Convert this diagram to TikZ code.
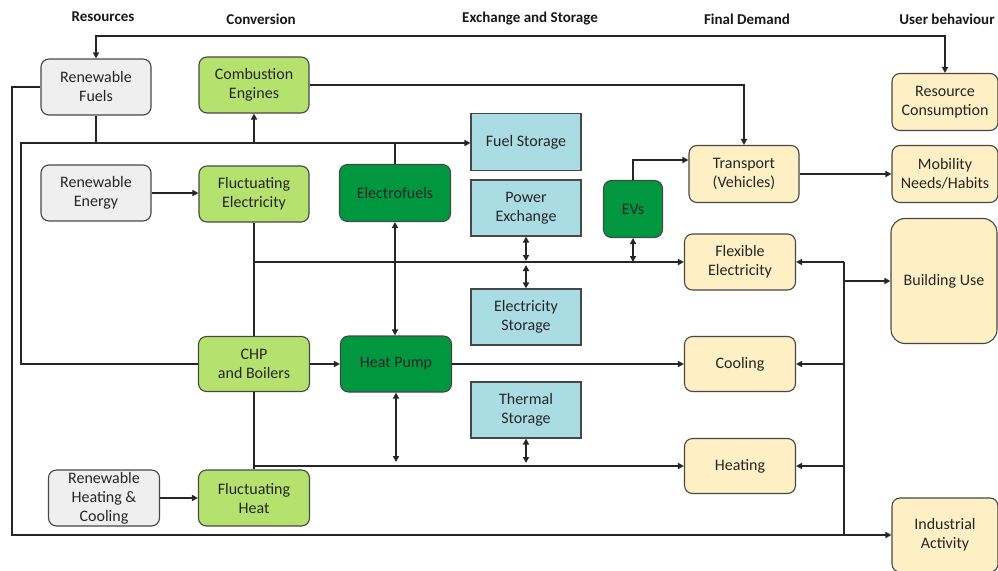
\documentclass[tikz,border=0pt]{standalone}
\usepackage{fontspec}
\setmainfont{Carlito}
\usetikzlibrary{arrows.meta,calc}
\definecolor{cgray}{HTML}{EFEFEF}
\definecolor{clgreen}{HTML}{B5E26E}
\definecolor{cdgreen}{HTML}{00973F}
\definecolor{cblue}{HTML}{A9DCE3}
\definecolor{cyellow}{HTML}{FFEFC4}
\begin{document}
\begin{tikzpicture}[x=1pt,y=-1pt,
  box/.style={draw=black!72, line width=1.1pt, rounded corners=8pt, minimum width=110pt, minimum height=56pt, align=center, font=\fontsize{16}{19}\selectfont, inner sep=1pt, text=black!85},
  grayb/.style={box, fill=cgray},
  lgreen/.style={box, fill=clgreen},
  dgreen/.style={box, fill=cdgreen},
  blueb/.style={box, fill=cblue, rounded corners=0pt},
  yel/.style={box, fill=cyellow},
  hdr/.style={font=\fontsize{15}{17}\selectfont\bfseries, text=black!90},
  ln/.style={line width=1.5pt, draw=black!85},
  ar/.style={ln, -{Triangle[length=6pt,width=6pt]}},
  dar/.style={ln, {Triangle[length=6pt,width=6pt]}-{Triangle[length=6pt,width=6pt]}},
]
\fill[white] (0,0) rectangle (998,570);
\useasboundingbox (0,0) rectangle (998,570);

% headers
\node[hdr] (h1) at (103,17) {Resources};
\node[hdr] (h2) at (261,19) {Conversion};
\node[hdr] (h3) at (530,19) {Exchange and Storage};
\node[hdr] (h4) at (747,19) {Final Demand};
\node[hdr] (h5) at (947,19) {User behaviour};

% nodes
\node[grayb] (rf) at (96,87) {Renewable\\Fuels};
\node[lgreen] (ce) at (254,85) {Combustion\\Engines};
\node[grayb] (re) at (96,193) {Renewable\\Energy};
\node[lgreen] (fe) at (254,194) {Fluctuating\\Electricity};
\node[dgreen, minimum width=111pt, minimum height=57pt] (ef) at (395,193) {Electrofuels};
\node[blueb, minimum height=57pt] (fs) at (526,142) {Fuel Storage};
\node[blueb] (pe) at (526,208) {Power\\Exchange};
\node[blueb] (es) at (526,317) {Electricity\\Storage};
\node[blueb] (ts) at (526,410) {Thermal\\Storage};
\node[dgreen, minimum width=59pt, minimum height=57pt] (ev) at (633,209) {EVs};
\node[yel, minimum height=57pt] (tr) at (744,174) {Transport\\(Vehicles)};
\node[yel, minimum width=106pt, minimum height=57pt] (rc) at (945,102) {Resource\\Consumption};
\node[yel, minimum width=106pt, minimum height=57pt] (mn) at (945,174) {Mobility\\Needs/Habits};
\node[yel, minimum width=111pt] (fx) at (740,262) {Flexible\\Electricity};
\node[yel, minimum width=106pt, minimum height=125pt, rounded corners=14pt] (bu) at (944,281) {Building Use};
\node[yel, minimum width=111pt, minimum height=55pt] (co) at (740,364) {Cooling};
\node[yel, minimum width=111pt, minimum height=55pt] (he) at (740,466) {Heating};
\node[yel, minimum width=106pt, minimum height=74pt] (ia) at (945,535) {Industrial\\Activity};
\node[lgreen, minimum width=111pt, minimum height=55pt] (chp) at (254,364) {CHP\\and Boilers};
\node[dgreen, minimum width=111pt] (hp) at (396,364) {Heat Pump};
\node[grayb, minimum width=111pt] (rhc) at (104,498) {Renewable\\Heating \&\\Cooling};
\node[lgreen, minimum width=111pt] (fh) at (254,498) {Fluctuating\\Heat};

% helper coordinates
\coordinate (top) at (500,36);
\coordinate (lft) at (12,300);
\coordinate (b1) at (21,143);
\coordinate (bus) at (844,300);
\coordinate (evt) at (633,160);
\coordinate (pel) at (526,261);
\coordinate (esl) at (526,265);
\coordinate (hpl) at (396,462);
\coordinate (tsl) at (526,463);

% connectors
\draw[dar] (rf.north) |- (top) -| (rc.north);
\draw[ar] (rf.west) -| (lft) |- (ia.west);
\draw[ar] (chp.west) -| (b1) -- (b1 -| fs.west);
\draw[ln] (rf.south) -- (rf.south |- b1);
\draw[ar] (ce.south |- b1) -- (ce.south);
\draw[ln] (ef.north) -- (ef.north |- b1);
\draw[ar] (ce.east) -| (tr.north);
\draw[ar] (re.east) -- (re.east -| fe.west);
\draw[ln] (fe.south) -- (chp.north);
\draw[ar] (fe.south |- fx.west) -- (fx.west);
\draw[dar] (ef.south) -- (ef.south |- hp.north);
\draw[dar] (pe.south) -- (pel);
\draw[dar] (esl) -- (es.north);
\draw[dar] (ev.south) -- (ev.south |- fx.west);
\draw[ar] (ev.north) |- (evt -| tr.west);
\draw[ar] (tr.east) -- (mn.west);
\draw[ar] (chp.east) -- (hp.west);
\draw[ar] (hp.east) -- (co.west);
\draw[dar] (hp.south) -- (hpl);
\draw[ar] (chp.south |- he.west) -- (he.west);
\draw[ln] (chp.south) -- (fh.north);
\draw[dar] (ts.south) -- (tsl);
\draw[ar] (rhc.east) -- (rhc.east -| fh.west);
\draw[ln] (bus |- fx.east) -- (bus |- ia.west);
\draw[ar] (bus |- fx.east) -- (fx.east);
\draw[ar] (bus |- co.east) -- (co.east);
\draw[ar] (bus |- he.east) -- (he.east);
\draw[ar] (bus |- bu.west) -- (bu.west);
\end{tikzpicture}
\end{document}
